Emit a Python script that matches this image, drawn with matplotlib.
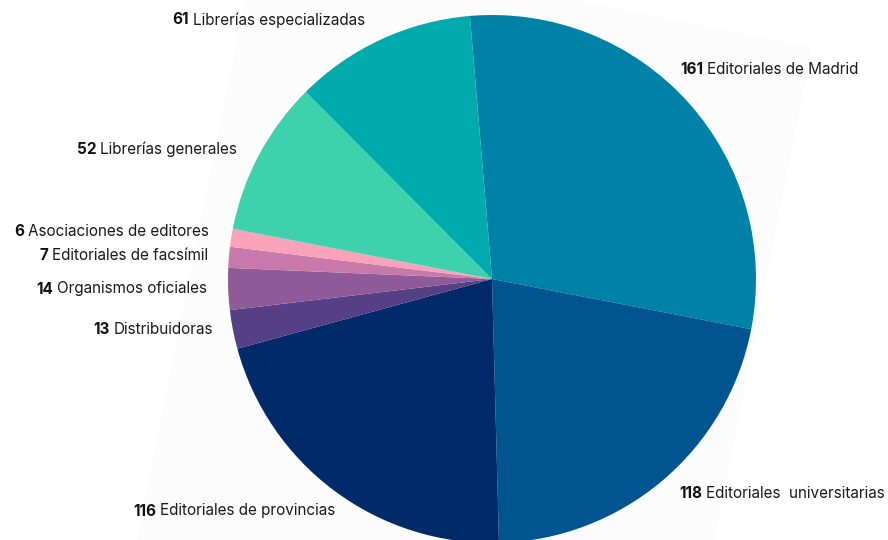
import matplotlib
matplotlib.use("Agg")
import matplotlib.pyplot as plt
from matplotlib.patches import Polygon
import numpy as np

# ---- data ----
categories = ["Editoriales de Madrid", "Editoriales  universitarias", "Editoriales de provincias",
              "Distribuidoras", "Organismos oficiales", "Editoriales de facsímil",
              "Asociaciones de editores", "Librerías generales", "Librerías especializadas"]
values = [161, 118, 116, 13, 14, 7, 6, 52, 61]
colors = ["#0081A7", "#00548F", "#002A6A", "#553F85", "#8E5B98", "#C679AA",
          "#F8A3B9", "#3DD2AC", "#00ABAD"]

# label anchors (pixels from top-left): (x, vertical centre, alignment)
label_pos = [(680, 70, "left"), (679, 493, "left"), (133, 511, "left"),
             (213, 329, "right"), (207, 289, "right"), (208, 255, "right"),
             (209, 231, "right"), (237, 149, "right"), (172, 20, "left")]

W, H = 888, 540
fig = plt.figure(figsize=(W / 100, H / 100), dpi=100)
fig.patch.set_facecolor("white")
ax = fig.add_axes([0, 0, 1, 1])
ax.set_xlim(0, W)
ax.set_ylim(0, H)
ax.set_aspect("equal")
ax.axis("off")

# faint rotated background panel
ang = np.deg2rad(11.3)
d_down = np.array([-np.sin(ang), -np.cos(ang)])
d_left = np.array([-np.cos(ang), np.sin(ang)])
tr = np.array([812, H - 48])
w = 565
Lh = 900
pts = [tr, tr + d_left * w, tr + d_left * w + d_down * Lh, tr + d_down * Lh]
ax.add_patch(Polygon(pts, closed=True, facecolor="#fcfcfc", edgecolor="none", zorder=0))

cx, cy, r = 492, H - 279, 264
ax.pie(values, colors=colors, startangle=94.8, counterclock=False,
       center=(cx, cy), radius=r, wedgeprops=dict(linewidth=0), frame=True)
ax.set_xlim(0, W)
ax.set_ylim(0, H)
ax.axis("off")

fs = 11.0
fam = "Inter"
gap = 4
fig.canvas.draw()
renderer = fig.canvas.get_renderer()
inv = ax.transData.inverted()
for v, name, (x, y, al) in zip(values, categories, label_pos):
    if al == "left":
        t1 = ax.text(x, H - y, str(v), fontsize=fs, fontfamily=fam, fontweight="bold",
                     color="#111111", ha="left", va="center", zorder=5)
        bb = t1.get_window_extent(renderer=renderer)
        x2 = inv.transform((bb.x1, 0))[0] + gap
        ax.text(x2, H - y, name, fontsize=fs, fontfamily=fam, color="#1a1a1a",
                ha="left", va="center", zorder=5)
    else:
        t2 = ax.text(x, H - y, name, fontsize=fs, fontfamily=fam, color="#1a1a1a",
                     ha="right", va="center", zorder=5)
        bb = t2.get_window_extent(renderer=renderer)
        x1 = inv.transform((bb.x0, 0))[0] - gap
        ax.text(x1, H - y, str(v), fontsize=fs, fontfamily=fam, fontweight="bold",
                color="#111111", ha="right", va="center", zorder=5)

fig.savefig("out.png", dpi=100, facecolor="white")
